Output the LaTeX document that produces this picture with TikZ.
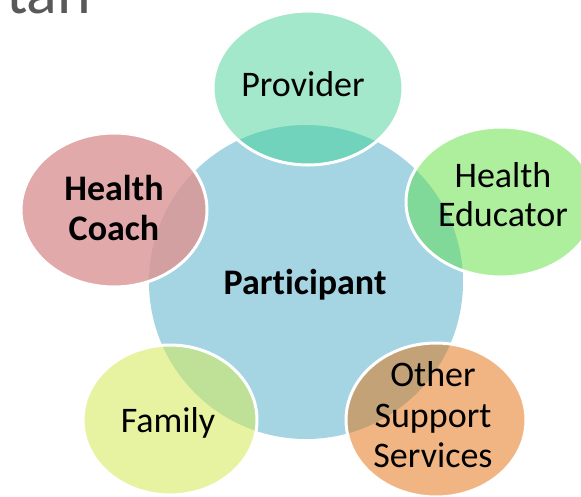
\documentclass[tikz,border=0pt]{standalone}
\usepackage{fontspec}
\setmainfont[Ligatures=NoCommon]{Carlito}
\definecolor{cblue}{HTML}{A5D5E3}
\definecolor{provF}{HTML}{A3E8CA}
\definecolor{provO}{HTML}{72D3BC}
\definecolor{eduF}{HTML}{AEEF9E}
\definecolor{eduO}{HTML}{80D998}
\definecolor{coachF}{HTML}{E1A9A9}
\definecolor{coachO}{HTML}{D3A0A2}
\definecolor{famF}{HTML}{E8F3A2}
\definecolor{famO}{HTML}{BEE097}
\definecolor{othF}{HTML}{F1B583}
\definecolor{othO}{HTML}{C4A278}
\definecolor{titlegray}{HTML}{595959}
\tikzset{
  lbl/.style={anchor=base, inner sep=0pt, font=\fontsize{36}{40}\selectfont, text=black},
  blbl/.style={lbl, font=\fontsize{36}{40}\selectfont\bfseries},
  rim/.style={draw=white, line width=3pt}
}
\newcommand{\satellite}[5]{%
  \fill[#4] #1 ellipse [x radius=#2, y radius=#3];
  \begin{scope}
    \clip #1 ellipse [x radius=#2, y radius=#3];
    \fill[#5] (hub) circle (157);
  \end{scope}
  \draw[rim] #1 ellipse [x radius=#2, y radius=#3];
}
\begin{document}
\begin{tikzpicture}[x=1pt,y=-1pt]
\useasboundingbox[fill=white] (0,0) rectangle (581,496);
\coordinate (hub) at (306,282);
\fill[cblue] (hub) circle (157);
\satellite{(308,88)}{95}{77}{provF}{provO}
\satellite{(501,202)}{95}{75}{eduF}{eduO}
\satellite{(114,210)}{93}{77}{coachF}{coachO}
\satellite{(170,420)}{87}{75}{famF}{famO}
\satellite{(436,420)}{90}{77}{othF}{othO}
\node[blbl] (part) at (305,294) {Participant};
\node[lbl] (prov) at (303,96) {Provider};
\node[lbl] (edu1) at (503,187) {Health};
\node[lbl] (edu2) at (503,226) {Educator};
\node[blbl] (coach1) at (114,200) {Health};
\node[blbl] (coach2) at (114,240) {Coach};
\node[lbl] (fam) at (168,432) {Family};
\node[lbl] (oth1) at (433,386) {Other};
\node[lbl] (oth2) at (433,427) {Support};
\node[lbl] (oth3) at (433,467) {Services};
\node[anchor=base west, inner sep=0pt, font=\fontsize{64}{70}\selectfont, text=titlegray] (title) at (6,13) {tan};
\end{tikzpicture}
\end{document}
